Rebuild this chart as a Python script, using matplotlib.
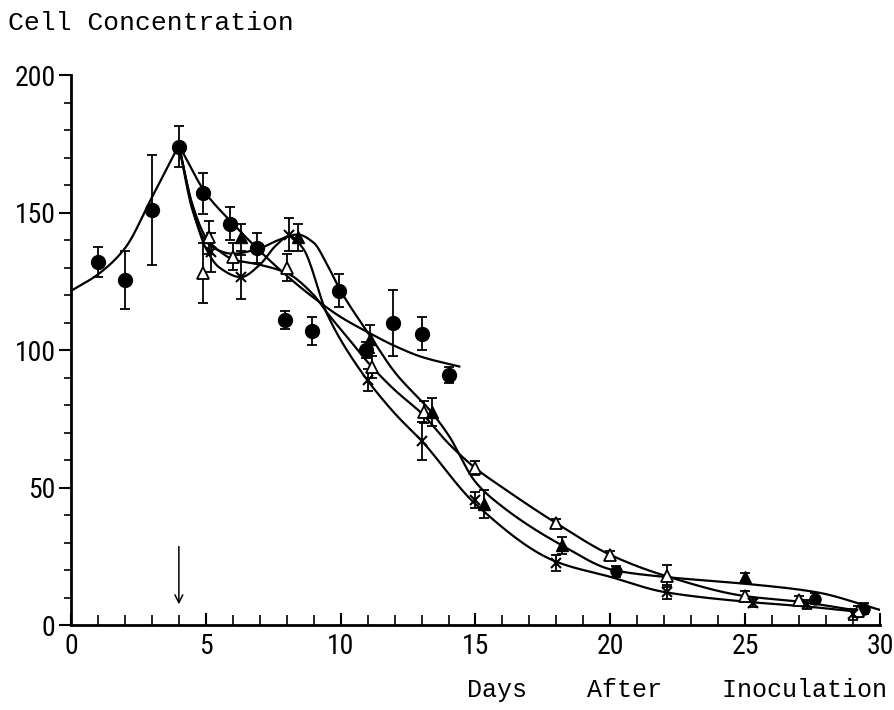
import numpy as np
import matplotlib
matplotlib.use('Agg')
import matplotlib.pyplot as plt
from matplotlib import font_manager
from matplotlib.ticker import MultipleLocator

# measured points (day, mean, error)
ctrl_day = [1, 2, 3, 4, 4.9, 5.9, 6.9, 7.95, 8.95, 9.95, 10.95, 11.95, 13.0, 14.0]
ctrl_val = [132, 125.5, 151, 174, 157, 146, 137, 111, 107, 121.5, 100, 110, 106, 91]
ctrl_err = [5.5, 10.5, 20, 7.5, 7.5, 6, 5.5, 3.3, 5, 6, 3, 12, 6, 3]

otri_day = [4.9, 5.1, 6.0, 8.0, 11.15, 13.1, 15.0, 18.0, 20.0, 22.1, 25.0, 27.0, 29.2]
otri_val = [128, 141, 134, 130, 94, 77.5, 57, 37, 25.5, 18, 10.5, 9, 5]
otri_err = [11, 6, 5, 5, 4, 4, 2.5, 1.5, 1.5, 4, 2, 1.5, 2]

ftri_day = [6.3, 8.4, 11.1, 13.4, 15.3, 18.2, 25.0]
ftri_val = [141, 141, 104, 77.5, 44, 29, 17.5]
ftri_err = [5, 5, 5, 5, 5, 3, 1.5]

cross_day = [5.2, 6.3, 8.1, 11.0, 13.0, 15.0, 18.0, 22.1, 25.3, 27.3, 29.0]
cross_val = [135.5, 126.5, 142, 89, 67, 45.5, 22.5, 12, 8, 7.5, 4]
cross_err = [7, 8, 6, 4, 7, 3, 3, 2.5, 1.5, 1.5, 2]

late_day = [20.2, 27.6, 29.4]
late_val = [19.5, 9.5, 6]
late_err = [2, 2, 2]

# hand-drawn smooth curves (knots)
rise_day = [0, 1, 2, 3, 4]
rise_val = [121.5, 127.5, 137, 155.5, 174.5]

ctrl_fit_day = [4, 5, 6, 7, 8, 9, 10, 11, 12, 13, 14.4]
ctrl_fit_val = [174.5, 157, 146, 136, 127, 119, 112, 106.5, 101.5, 97.5, 94]

cross_fit_day = [4, 4.5, 5, 5.5, 6.3, 7, 7.6, 8.1, 8.6, 9.5, 10.7, 12, 13, 15, 18, 20, 22, 25, 27.3, 29.3]
cross_fit_val = [174.5, 152, 137, 130, 126.5, 131, 138, 141.5, 137, 113, 93, 77, 67, 44, 23, 17.5, 12, 8.5, 6.7, 4.7]

otri_fit_day = [4, 4.5, 5, 5.5, 6, 7, 8, 9, 9.5, 10.3, 11.1, 12, 13, 14, 15, 16, 18, 20, 22, 25, 27, 29.3]
otri_fit_val = [174.5, 153, 141, 136, 133, 131, 128, 120, 113.5, 104, 94.5, 85.5, 77, 66, 57, 50, 37, 25.5, 18, 10.5, 8.5, 5]

ftri_fit_day = [4, 4.5, 4.9, 5.3, 6, 7, 7.7, 8.4, 9, 9.5, 10, 11.1, 12, 13.4, 14, 15, 16, 18.2, 20.1, 22, 25, 27.6, 30]
ftri_fit_val = [174.5, 151, 141, 137, 135, 137, 140, 142, 139, 131, 121.5, 105, 92, 77, 69, 52, 43, 29, 20, 17.5, 15, 12, 5.5]


def smooth(xk, yk, n=500):
    # monotone cubic (pchip) through the knots
    xk = np.asarray(xk, float)
    yk = np.asarray(yk, float)
    h = np.diff(xk)
    d = np.diff(yk) / h
    m = np.zeros_like(yk)
    m[0], m[-1] = d[0], d[-1]
    for i in range(1, len(xk) - 1):
        if d[i - 1] * d[i] > 0:
            w1 = 2 * h[i] + h[i - 1]
            w2 = h[i] + 2 * h[i - 1]
            m[i] = (w1 + w2) / (w1 / d[i - 1] + w2 / d[i])
    x = np.linspace(xk[0], xk[-1], n)
    i = np.clip(np.searchsorted(xk, x) - 1, 0, len(h) - 1)
    t = (x - xk[i]) / h[i]
    y = ((2 * t**3 - 3 * t**2 + 1) * yk[i] + (t**3 - 2 * t**2 + t) * h[i] * m[i]
         + (-2 * t**3 + 3 * t**2) * yk[i + 1] + (t**3 - t**2) * h[i] * m[i + 1])
    return x, y


# narrow font for tick numbers if one is installed
names = {f.name for f in font_manager.fontManager.ttflist}
narrow = None
for cand in ['Liberation Sans Narrow', 'DejaVu Sans Condensed', 'Roboto Condensed', 'Open Sans Condensed']:
    if cand in names:
        narrow = cand
        break
if narrow:
    tick_font = dict(family=narrow, size=20)
else:
    tick_font = dict(family='DejaVu Sans', stretch='condensed', size=17)

fig = plt.figure(figsize=(8.95, 7.10), dpi=100)
ax = fig.add_axes([71 / 895, 85 / 710, 809 / 895, 550 / 710])

for kx, ky in [(rise_day, rise_val), (ctrl_fit_day, ctrl_fit_val), (cross_fit_day, cross_fit_val),
               (otri_fit_day, otri_fit_val), (ftri_fit_day, ftri_fit_val)]:
    sx, sy = smooth(kx, ky)
    ax.plot(sx, sy, color='black', lw=1.6, zorder=2)

eb = dict(fmt='none', ecolor='black', elinewidth=1.3, capsize=3.5, capthick=1.3, zorder=3)
ax.errorbar(ctrl_day, ctrl_val, yerr=ctrl_err, **eb)
ax.errorbar(otri_day, otri_val, yerr=otri_err, **eb)
ax.errorbar(ftri_day, ftri_val, yerr=ftri_err, **eb)
ax.errorbar(cross_day, cross_val, yerr=cross_err, **eb)
ax.errorbar(late_day, late_val, yerr=late_err, **eb)

ax.plot(ctrl_day, ctrl_val, 'o', color='black', ms=10, zorder=4)
ax.plot(late_day, late_val, 'o', color='black', ms=8, zorder=4)
ax.plot(otri_day, otri_val, '^', mfc='white', mec='black', mew=1.3, ms=8, zorder=4)
ax.plot(ftri_day, ftri_val, '^', color='black', ms=8, zorder=4)
ax.plot(cross_day, cross_val, 'x', color='black', mew=1.5, ms=7, zorder=4)

# arrow marking day 4
ax.annotate('', xy=(4, 6.5), xytext=(4, 29.5),
            arrowprops=dict(arrowstyle='->', lw=1.1, color='black', mutation_scale=14))

ax.set_xlim(0, 30)
ax.set_ylim(0, 200)
for s in ['top', 'right']:
    ax.spines[s].set_visible(False)
ax.spines['left'].set_linewidth(2)
ax.spines['bottom'].set_linewidth(2)

ax.xaxis.set_major_locator(MultipleLocator(5))
ax.xaxis.set_minor_locator(MultipleLocator(1))
ax.yaxis.set_major_locator(MultipleLocator(50))
ax.yaxis.set_minor_locator(MultipleLocator(10))
ax.tick_params(axis='x', which='major', direction='in', length=9, width=1.5, pad=6)
ax.tick_params(axis='x', which='minor', direction='in', length=7, width=1.2)
ax.tick_params(axis='y', which='major', direction='out', length=9, width=1.5, pad=2)
ax.tick_params(axis='y', which='minor', direction='out', length=5, width=1.2)

ax.set_xticks([0, 5, 10, 15, 20, 25, 30])
ax.set_xticklabels(['0', '5', '10', '15', '20', '25', '30'], fontdict=tick_font)
ax.set_yticks([0, 50, 100, 150, 200])
ax.set_yticklabels(['0', '50', '100', '150', '200'], fontdict=tick_font)

fig.text(8 / 895, 1 - 30 / 710, 'Cell Concentration', family='Liberation Mono', size=19,
         va='baseline', ha='left')
fig.text(467 / 895, 13 / 710, 'Days    After    Inoculation', family='Liberation Mono', size=18,
         va='baseline', ha='left')

fig.savefig('out.png', dpi=100)
